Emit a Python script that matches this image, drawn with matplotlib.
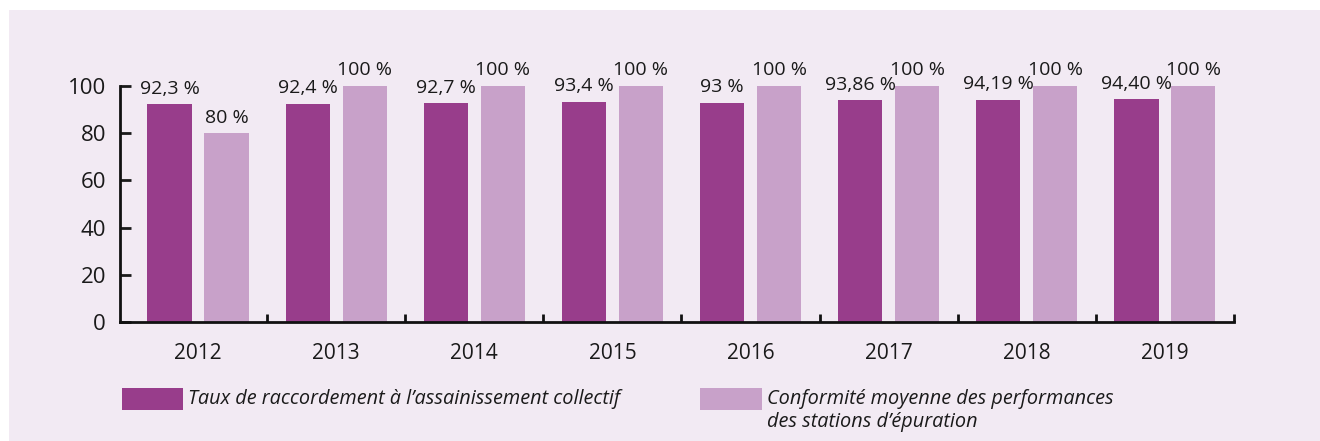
import numpy as np
import matplotlib.pyplot as plt
from matplotlib.patches import Rectangle

years = ['2012', '2013', '2014', '2015', '2016', '2017', '2018', '2019']
taux = [92.3, 92.4, 92.7, 93.4, 93.0, 93.86, 94.19, 94.40]
taux_labels = ['92,3 %', '92,4 %', '92,7 %', '93,4 %', '93 %', '93,86 %', '94,19 %', '94,40 %']
conformite = [80, 100, 100, 100, 100, 100, 100, 100]
conf_labels = ['80 %', '100 %', '100 %', '100 %', '100 %', '100 %', '100 %', '100 %']

dark = '#983d8b'
light = '#c8a1c9'
bg = '#f2eaf3'

plt.rcParams['font.family'] = ['Open Sans', 'DejaVu Sans']

W, H = 1320, 441
fig = plt.figure(figsize=(W / 100, H / 100), dpi=100)
fig.patch.set_facecolor('white')
fig.patches.append(Rectangle((9 / W, 0), 1 - 9 / W, 1 - 10 / H, transform=fig.transFigure,
                             facecolor=bg, edgecolor='none', zorder=-5))

ax = fig.add_axes([120 / W, 1 - 322 / H, (1234 - 120) / W, (322 - 86) / H])
ax.set_facecolor('none')
ax.set_zorder(2)

x = np.arange(len(years))
bw = 0.32
off = 0.206
ax.bar(x - off, taux, bw, color=dark, zorder=2)
ax.bar(x + off, conformite, bw, color=light, zorder=2)

for i in range(len(years)):
    ax.text(x[i] - off, taux[i] + 2.8, taux_labels[i], ha='center', va='bottom', fontsize=14,
            color='#1a1a1a', clip_on=False)
    ax.text(x[i] + off, conformite[i] + 2.8, conf_labels[i], ha='center', va='bottom', fontsize=14,
            color='#1a1a1a', clip_on=False)

ax.set_xlim(-0.565, 7.5)
ax.set_ylim(0, 100)
ax.set_yticks([0, 20, 40, 60, 80, 100])
ax.tick_params(axis='y', direction='in', length=8, width=2, labelsize=16, pad=10, colors='#1a1a1a')
ax.set_xticks(x)
ax.set_xticklabels(years)
ax.tick_params(axis='x', which='major', length=0, labelsize=15, pad=15, colors='#1a1a1a')
ax.set_xticks(np.arange(len(years)) + 0.5, minor=True)
ax.tick_params(axis='x', which='minor', direction='in', length=6, width=2, color='#111111')

for s in ['top', 'right']:
    ax.spines[s].set_visible(False)
for s in ['left', 'bottom']:
    ax.spines[s].set_linewidth(2)
    ax.spines[s].set_color('#111111')

# legend
fig.patches.append(Rectangle((122 / W, 1 - 410 / H), 61 / W, 22 / H, transform=fig.transFigure,
                             facecolor=dark, edgecolor='none'))
fig.text(188 / W, 1 - 399 / H, "Taux de raccordement à l’assainissement collectif",
         fontsize=14.3, style='italic', va='center', color='#1a1a1a')
fig.patches.append(Rectangle((700 / W, 1 - 410 / H), 62 / W, 22 / H, transform=fig.transFigure,
                             facecolor=light, edgecolor='none'))
fig.text(767 / W, 1 - 399 / H, "Conformité moyenne des performances",
         fontsize=14.3, style='italic', va='center', color='#1a1a1a')
fig.text(767 / W, 1 - 422 / H, "des stations d’épuration",
         fontsize=14.3, style='italic', va='center', color='#1a1a1a')

fig.savefig('out.png', dpi=100, facecolor=fig.get_facecolor())
